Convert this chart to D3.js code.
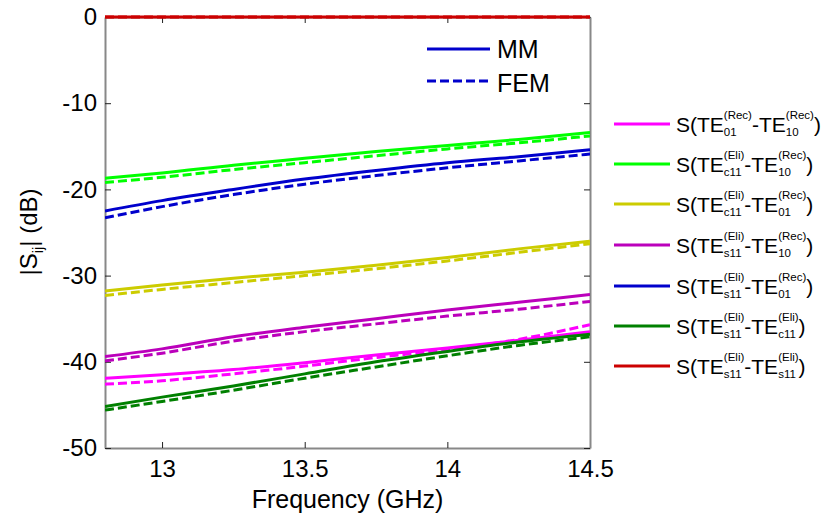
<!DOCTYPE html>
<html>
<head>
<meta charset="utf-8">
<script src="https://cdn.jsdelivr.net/npm/d3@7"></script>
<style>
body { margin: 0; background: #fff; }
text { font-family: Arial, "Liberation Sans", sans-serif; }
</style>
</head>
<body>
<div id="chart"></div>
<script>
// frequency points (GHz)
var freq = [12.8, 13.0, 13.25, 13.5, 13.75, 14.0, 14.25, 14.5];

// |Sij| in dB, MM = solid, FEM = dashed
var rec01rec10MM  = [-41.9, -41.5, -40.9, -40.1, -39.2, -38.4, -37.5, -36.5];
var rec01rec10FEM = [-42.6, -42.2, -41.4, -40.5, -39.5, -38.6, -37.4, -35.7];
var c11rec10MM    = [-18.7, -18.1, -17.2, -16.4, -15.6, -14.9, -14.2, -13.4];
var c11rec10FEM   = [-19.2, -18.6, -17.7, -16.9, -16.1, -15.3, -14.6, -13.8];
var c11rec01MM    = [-31.8, -31.1, -30.3, -29.6, -28.8, -27.9, -26.9, -26.0];
var c11rec01FEM   = [-32.3, -31.6, -30.8, -30.0, -29.2, -28.3, -27.3, -26.3];
var s11rec10MM    = [-39.4, -38.5, -37.1, -36.0, -35.0, -34.0, -33.1, -32.2];
var s11rec10FEM   = [-39.9, -39.0, -37.6, -36.5, -35.6, -34.7, -33.9, -33.0];
var s11rec01MM    = [-22.5, -21.3, -20.0, -18.8, -17.8, -16.9, -16.2, -15.4];
var s11rec01FEM   = [-23.3, -22.0, -20.6, -19.4, -18.4, -17.5, -16.7, -15.9];
var s11c11MM      = [-45.2, -44.1, -42.8, -41.4, -40.0, -38.8, -37.7, -36.8];
var s11c11FEM     = [-45.6, -44.6, -43.3, -41.9, -40.6, -39.3, -38.1, -37.1];
var s11s11MM      = [0, 0, 0, 0, 0, 0, 0, 0];
var s11s11FEM     = [0, 0, 0, 0, 0, 0, 0, 0];

// legend labels: [sup1, sub1, sup2, sub2]
var labelParts = [
  ["(Rec)", "01", "(Rec)", "10"],
  ["(Eli)", "c11", "(Rec)", "10"],
  ["(Eli)", "c11", "(Rec)", "01"],
  ["(Eli)", "s11", "(Rec)", "10"],
  ["(Eli)", "s11", "(Rec)", "01"],
  ["(Eli)", "s11", "(Eli)", "c11"],
  ["(Eli)", "s11", "(Eli)", "s11"]
];
var colors = ["#ff00ff", "#00ff00", "#cccc00", "#bb00bb", "#0000cc", "#008000", "#cc0000"];
var mmSeries  = [rec01rec10MM, c11rec10MM, c11rec01MM, s11rec10MM, s11rec01MM, s11c11MM, s11s11MM];
var femSeries = [rec01rec10FEM, c11rec10FEM, c11rec01FEM, s11rec10FEM, s11rec01FEM, s11c11FEM, s11s11FEM];

var yTicks = [-50, -40, -30, -20, -10, 0];
var xTicks = [13, 13.5, 14, 14.5];

var margin = {top: 17, left: 105},
    width = 485,
    height = 431;

var svg = d3.select("#chart")
  .append("svg")
  .attr("width", 826)
  .attr("height", 515);

var g = svg.append("g")
  .attr("transform", "translate(" + margin.left + "," + margin.top + ")");

var x = d3.scaleLinear().domain([12.8, 14.5]).range([0, width]);
var y = d3.scaleLinear().domain([-50, 0]).range([height, 0]);

g.append("clipPath").attr("id", "clip")
  .append("rect").attr("x", 0).attr("y", -3).attr("width", width).attr("height", height + 3);

// plain number labels with hyphen minus (matlab style)
var fmt = function(d) { return String(d); };

// axes (ticks pointing inward like matlab)
var xAxis = g.append("g")
  .attr("transform", "translate(0," + height + ")")
  .call(d3.axisBottom(x).tickValues(xTicks).tickSizeInner(-6).tickSizeOuter(0).tickPadding(12).tickFormat(fmt));
var xTop = g.append("g")
  .call(d3.axisTop(x).tickValues(xTicks).tickSizeInner(-6).tickSizeOuter(0).tickFormat(""));
var yAxis = g.append("g")
  .call(d3.axisLeft(y).tickValues(yTicks).tickSizeInner(-6).tickSizeOuter(0).tickPadding(8).tickFormat(fmt));
var yRight = g.append("g")
  .attr("transform", "translate(" + width + ",0)")
  .call(d3.axisRight(y).tickValues(yTicks).tickSizeInner(-6).tickSizeOuter(0).tickFormat(""));

[xAxis, xTop, yAxis, yRight].forEach(function(a) {
  a.select(".domain").attr("stroke", "#888").attr("stroke-width", 2);
  a.selectAll(".tick line").attr("stroke", "#222").attr("stroke-width", 1);
  a.selectAll(".tick text")
    .attr("fill", "#000")
    .style("font-size", "24px")
    .style("font-family", "Arial, 'Liberation Sans', sans-serif");
});

// curves
var line = d3.line()
  .x(function(d, i) { return x(freq[i]); })
  .y(function(d) { return y(d); })
  .curve(d3.curveMonotoneX);

var curves = g.append("g").attr("clip-path", "url(#clip)");
for (var k = 0; k < colors.length; k++) {
  curves.append("path")
    .datum(mmSeries[k])
    .attr("fill", "none")
    .attr("stroke", colors[k])
    .attr("stroke-width", 3)
    .attr("d", line);
  curves.append("path")
    .datum(femSeries[k])
    .attr("fill", "none")
    .attr("stroke", colors[k])
    .attr("stroke-width", 3)
    .style("stroke-dasharray", "9,4")
    .attr("d", line);
}

// axis labels
svg.append("text")
  .attr("x", margin.left + width / 2)
  .attr("y", 508)
  .attr("text-anchor", "middle")
  .style("font-size", "25px")
  .text("Frequency (GHz)");

var yl = svg.append("text")
  .attr("transform", "translate(37,232) rotate(-90)")
  .attr("text-anchor", "middle")
  .style("font-size", "24px");
yl.append("tspan").text("|S");
yl.append("tspan").attr("dy", 6).style("font-size", "15px").text("ij");
yl.append("tspan").attr("dy", -6).text("| (dB)");

// inner MM / FEM legend
var inner = svg.append("g");
inner.append("line")
  .attr("x1", 427).attr("x2", 490).attr("y1", 49).attr("y2", 49)
  .attr("stroke", "#0000cc").attr("stroke-width", 3);
inner.append("line")
  .attr("x1", 427).attr("x2", 490).attr("y1", 81).attr("y2", 81)
  .attr("stroke", "#0000cc").attr("stroke-width", 3)
  .style("stroke-dasharray", "9,4");
inner.append("text").attr("x", 497).attr("y", 58).style("font-size", "25px").text("MM");
inner.append("text").attr("x", 497).attr("y", 92).style("font-size", "25px").text("FEM");

// right legend with stacked super/subscripts
var rowY = [124, 164, 204, 245, 286, 326, 366];
var mainSize = 21, smallSize = 11.5;

function piece(parent, px, py, txt, size) {
  var t = parent.append("text")
    .attr("x", px).attr("y", py)
    .style("font-size", size + "px")
    .text(txt);
  return t.node().getComputedTextLength();
}

labelParts.forEach(function(p, i) {
  var row = svg.append("g");
  var cy = rowY[i];
  var base = cy + 8;
  row.append("line")
    .attr("x1", 614).attr("x2", 670).attr("y1", cy).attr("y2", cy)
    .attr("stroke", colors[i]).attr("stroke-width", 3);
  var cx = 676;
  cx += piece(row, cx, base, "S(TE", mainSize);
  var w1 = piece(row, cx, base - 13, p[0], smallSize);
  var w2 = piece(row, cx, base + 4, p[1], smallSize);
  cx += Math.max(w1, w2);
  cx += piece(row, cx, base, "-TE", mainSize);
  var w3 = piece(row, cx, base - 13, p[2], smallSize);
  var w4 = piece(row, cx, base + 4, p[3], smallSize);
  cx += Math.max(w3, w4);
  piece(row, cx, base, ")", mainSize);
});
</script>
</body>
</html>
